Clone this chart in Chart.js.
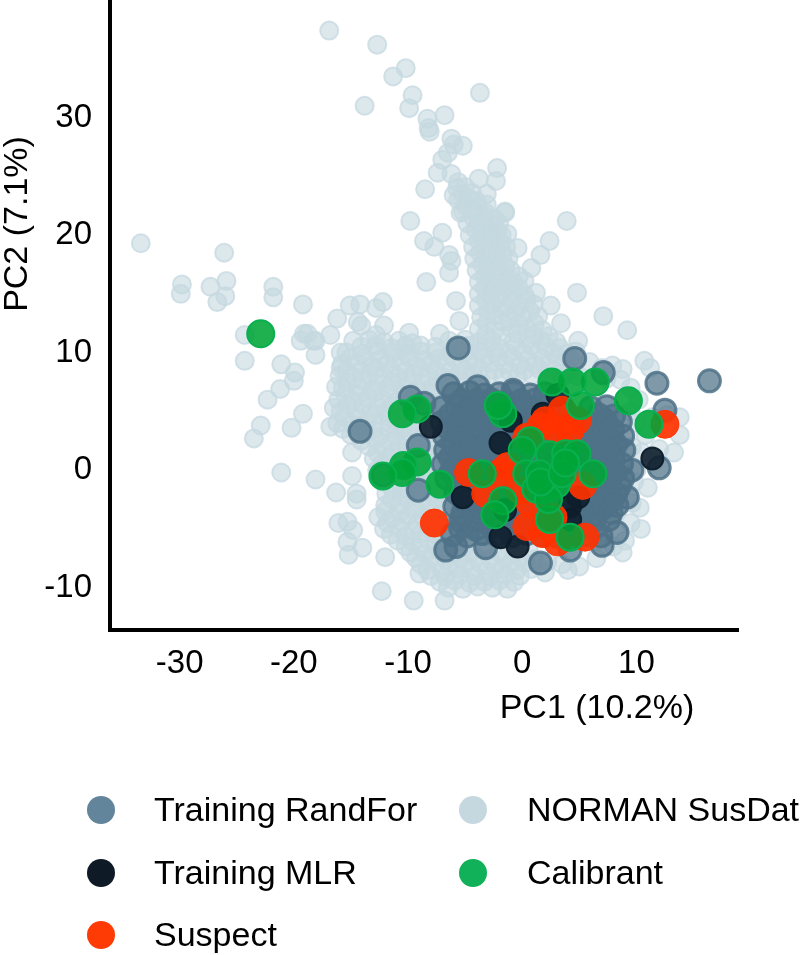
<!DOCTYPE html>
<html>
<head>
<meta charset="utf-8">
<title>PCA chemical space</title>
<script src="https://cdn.jsdelivr.net/npm/chart.js@4/dist/chart.umd.js"></script>
<style>
    html, body { margin: 0; padding: 0; background: #fff; overflow: hidden; }
    #wrap { width: 800px; height: 955px; position: relative; }
</style>
</head>
<body>
<div id="wrap"><canvas id="pcaChart" width="800" height="955"></canvas></div>
<script>
// Values (PC1, PC2)
const xTicks = [-30, -20, -10, 0, 10];
const yTicks = [-10, 0, 10, 20, 30];
const xTitle = 'PC1 (10.2%)';
const yTitle = 'PC2 (7.1%)';

const normanPoints = [
    // outliers and the arm going up
    [-16.9,37.4],[-12.7,36.2],[-10.2,34.2],[-11.3,33.5],[-9.6,31.9],[-3.7,32.1],[-9.9,30.8],[-13.8,31.0],
    [-8.3,29.9],[-6.8,30.2],[-8.2,29.1],[-8.1,28.8],[-6.2,28.2],[-5.2,27.6],[-6.0,27.7],[-6.5,27.0],
    [-7.0,26.4],[-7.4,25.3],[-6.2,25.2],[-2.2,25.7],[-3.8,24.8],[-2.3,24.6],[-3.1,23.5],[-8.5,23.9],
    [-5.6,24.5],[-6.0,23.4],[-1.5,21.9],[-9.8,21.2],[-5.4,21.9],[-7.0,20.2],[-8.6,19.5],[-7.7,19.0],
    [-1.3,20.1],[-6.4,18.3],[-6.2,17.8],[-6.4,16.8],[-8.4,16.0],[-5.8,14.4],[-5.5,12.7],[-7.2,11.6],
    [-33.4,19.3],[-26.1,18.5],[-29.8,15.8],[-29.9,15.0],[-27.3,15.6],[-25.9,16.1],[-26.0,14.8],[-26.7,14.3],
    [-21.8,15.6],[-21.8,14.7],[-19.2,14.1],[-24.3,11.5],[-18.8,11.6],[-16.2,12.9],[-15.1,14.0],[-14.2,14.1],
    [-12.2,14.3],[-12.8,13.8],[-14.4,12.6],[-12.1,12.3],[-9.9,11.7],[-0.4,18.9],[2.4,19.5],[1.6,18.3],
    [3.9,21.2],[4.8,15.1],[7.1,13.1],[9.2,11.9],[2.5,14.0],[3.4,12.5],[4.9,11.0],[0.8,17.2],[-1.5,22.0],
    // left edge of the main cloud
    [-24.3,9.3],[-21.1,9.0],[-19.9,8.3],[-20.0,7.6],[-21.2,6.9],[-22.3,6.0],[-22.9,3.8],[-23.5,2.7],
    [-19.2,4.8],[-20.2,3.6],[-21.1,-0.2],[-18.1,-0.8],[-16.3,-1.9],[-14.5,-2.5],[-14.5,-2.0],[-14.9,-0.5],
    [-16.1,-4.5],[-15.3,-4.4],[-14.8,-5.1],[-15.3,-6.1],[-14.0,-6.6],[-15.2,-7.2],[-12.0,-7.4],[-12.3,-10.3],
    [-9.5,-11.1],[-6.8,-11.1],[-9.0,-8.8],[-16.8,3.7],[-16.5,5.3],[-16.3,7.1],[-18.1,9.8],[-19.1,11.6],
    [-18.3,11.0],[-15.9,10.0],[-14.9,1.5],[-15.9,8.7],[-19.4,11.0],[-18.1,11.0],[-16.8,11.5],[-14.1,12.3],
    [-12.8,11.5],[-10.2,10.6],
    // main cloud
    [-14.8,11.0],[-13.4,11.1],[-12.1,10.9],[-10.8,11.0],[-9.6,10.8],[-6.4,11.0],[-5.0,11.1],[-3.8,10.9],[-2.7,11.0],[-0.8,10.9],[0.5,11.1],[1.7,11.0],[3.0,10.9],
    [-15.4,10.0],[-14.0,9.9],[-12.7,10.1],[-11.4,10.0],[-10.1,9.9],[-8.9,10.1],[-7.6,10.0],[-6.3,9.9],[-5.0,10.0],[-3.7,10.1],[-2.4,10.0],[-1.2,9.9],[0.1,10.0],[1.4,10.1],[2.7,10.0],[3.9,9.9],[4.7,10.1],
    [-15.8,9.0],[-14.5,9.1],[-13.2,8.9],[-11.9,9.0],[-10.6,9.1],[-9.3,8.9],[-8.0,9.0],[-6.7,9.1],[-5.4,8.9],[-4.1,9.0],[-2.8,9.1],[-1.5,9.0],[-0.2,8.9],[1.1,9.0],[2.4,9.1],[3.6,9.0],[4.4,8.9],
    [-16.0,8.0],[-14.7,7.9],[-13.4,8.1],[-12.1,8.0],[-10.8,7.9],[-9.5,8.1],[-8.2,8.0],[-6.9,7.9],[-5.6,8.0],[-4.3,8.1],[-3.0,8.0],[-1.7,7.9],[-0.4,8.0],[0.9,8.1],[2.2,8.0],[3.5,7.9],[4.8,8.0],
    [-15.7,7.0],[-14.4,7.1],[-13.1,6.9],[-11.8,7.0],[-10.5,7.1],[-9.2,6.9],[-7.9,7.0],[-6.6,7.1],
    [-16.1,6.0],[-14.8,5.9],[-13.5,6.1],[-12.2,6.0],[-10.9,5.9],[-9.6,6.1],[-8.3,6.0],[-7.0,5.9],
    [-15.9,5.0],[-14.6,5.1],[-13.3,4.9],[-12.0,5.0],[-10.7,5.1],[-9.4,4.9],[-8.1,5.0],
    [-16.2,4.0],[-14.9,3.9],[-13.6,4.1],[-12.3,4.0],[-11.0,3.9],[-9.7,4.1],[-8.4,4.0],
    [-15.0,3.0],[-13.7,3.1],[-12.4,2.9],[-11.1,3.0],[-9.8,3.1],[-8.5,2.9],
    [-13.4,2.0],[-12.1,1.9],[-10.8,2.1],[-9.5,2.0],[-8.2,1.9],
    [-13.0,1.0],[-11.7,1.1],[-10.4,0.9],[-9.1,1.0],[-7.8,1.1],
    [-12.7,0.0],[-11.4,-0.1],[-10.1,0.1],[-8.8,0.0],[-7.5,-0.1],
    [-12.2,-1.0],[-10.9,-0.9],[-9.6,-1.1],[-8.3,-1.0],[-7.0,-0.9],
    [-11.9,-2.0],[-10.6,-2.1],[-9.3,-1.9],[-8.0,-2.0],[-6.7,-2.1],
    [-12.0,-3.0],[-10.7,-2.9],[-9.4,-3.1],[-8.1,-3.0],[-6.8,-2.9],
    [-12.6,-4.0],[-11.3,-4.1],[-10.0,-3.9],[-8.7,-4.0],[-7.4,-4.1],[-6.1,-3.9],
    [-12.1,-5.0],[-10.8,-4.9],[-9.5,-5.1],[-8.2,-5.0],[-6.9,-4.9],
    [-10.9,-6.0],[-9.6,-6.1],[-8.3,-5.9],[-7.0,-6.0],
    [-9.8,-7.0],[-8.5,-7.1],[-7.2,-6.9],[-5.9,-7.0],[-4.6,-7.1],[-3.3,-6.9],[-2.0,-7.0],[-0.7,-7.1],[0.6,-6.9],
    [-8.9,-8.0],[-7.6,-7.9],[-6.3,-8.1],[-5.0,-8.0],[-3.7,-7.9],[-2.4,-8.1],[-1.1,-8.0],[0.2,-7.9],
    [-8.0,-9.0],[-6.7,-9.1],[-5.4,-8.9],[-4.1,-9.0],[-2.8,-9.1],[-1.5,-8.9],[-0.2,-9.0],
    [-6.5,-10.0],[-5.2,-10.1],[-3.9,-9.9],[-2.6,-10.0],[-1.3,-10.1],
    // main cloud, filling between the points above
    [-14.1,10.5],[-12.8,10.6],[-11.5,10.4],[-10.2,10.5],[-8.9,10.6],[-7.6,10.5],[-6.0,10.4],[-4.6,10.6],[-3.3,10.5],[-2.0,10.4],[-0.5,10.5],[0.8,10.6],[2.1,10.5],[3.3,10.4],
    [-15.1,9.5],[-13.8,9.6],[-12.5,9.4],[-11.2,9.5],[-9.9,9.6],[-8.6,9.4],[-7.3,9.5],[-6.0,9.6],[-4.7,9.4],[-3.4,9.5],[-2.1,9.6],[-0.8,9.5],[0.5,9.4],[1.8,9.5],[3.1,9.6],[4.2,9.5],
    [-15.4,8.5],[-14.1,8.4],[-12.8,8.6],[-11.5,8.5],[-10.2,8.4],[-8.9,8.6],[-7.6,8.5],[-6.3,8.4],[-5.0,8.5],[-3.7,8.6],[-2.4,8.5],[-1.1,8.4],[0.2,8.5],[1.5,8.6],[2.8,8.5],[4.1,8.4],
    [-15.3,7.5],[-14.0,7.6],[-12.7,7.4],[-11.4,7.5],[-10.1,7.6],[-8.8,7.4],[-7.5,7.5],[-6.2,7.6],[-4.9,7.5],[-3.6,7.4],
    [-15.5,6.5],[-14.2,6.4],[-12.9,6.6],[-11.6,6.5],[-10.3,6.4],[-9.0,6.6],[-7.7,6.5],
    [-15.3,5.5],[-14.0,5.6],[-12.7,5.4],[-11.4,5.5],[-10.1,5.6],[-8.8,5.4],[-7.5,5.5],
    [-15.6,4.5],[-14.3,4.4],[-13.0,4.6],[-11.7,4.5],[-10.4,4.4],[-9.1,4.6],[-7.8,4.5],
    [-15.7,3.5],[-14.3,3.6],[-13.0,3.4],[-11.7,3.5],[-10.4,3.6],[-9.1,3.4],[-7.8,3.5],
    [-14.1,2.5],[-12.8,2.6],[-11.5,2.4],[-10.2,2.5],[-8.9,2.6],[-7.6,2.4],
    [-12.7,1.5],[-11.4,1.4],[-10.1,1.6],[-8.8,1.5],[-7.5,1.4],
    [-12.3,0.5],[-11.0,0.6],[-9.7,0.4],[-8.4,0.5],[-7.1,0.6],
    [-12.0,-0.5],[-10.7,-0.4],[-9.4,-0.6],[-8.1,-0.5],[-6.8,-0.4],
    [-11.4,-1.5],[-10.1,-1.6],[-8.8,-1.4],[-7.5,-1.5],
    [-11.4,-2.5],[-10.1,-2.4],[-8.8,-2.6],[-7.5,-2.5],
    [-12.0,-3.5],[-10.7,-3.6],[-9.4,-3.4],[-8.1,-3.5],[-6.8,-3.6],
    [-11.8,-4.5],[-10.5,-4.4],[-9.2,-4.6],[-7.9,-4.5],[-6.6,-4.4],
    [-11.5,-5.5],[-10.2,-5.6],[-8.9,-5.4],[-7.6,-5.5],
    [-10.2,-6.5],[-8.9,-6.6],[-7.6,-6.4],[-6.3,-6.5],[-5.0,-6.6],
    [-9.3,-7.5],[-8.0,-7.4],[-6.7,-7.6],[-5.4,-7.5],[-4.1,-7.4],[-2.8,-7.6],[-1.5,-7.5],[-0.2,-7.4],[1.0,-7.6],
    [-8.3,-8.5],[-7.0,-8.6],[-5.7,-8.4],[-4.4,-8.5],[-3.1,-8.6],[-1.8,-8.4],[-0.5,-8.5],[0.8,-8.4],
    [-7.2,-9.5],[-5.9,-9.4],[-4.6,-9.6],[-3.3,-9.5],[-2.0,-9.4],[-0.7,-9.5],
    // right side, mostly behind the training points
    [5.9,9.2],[7.0,8.7],[7.9,8.9],[8.8,8.6],[7.4,7.8],[8.6,7.7],[10.7,9.3],[11.2,8.7],[9.5,5.0],[10.8,3.0],
    [11.4,4.5],[12.7,4.7],[13.8,4.5],[13.8,3.0],[13.3,1.5],[12.0,1.8],[10.5,1.5],[10.0,0.0],[11.0,-1.5],
    [10.3,-3.2],[9.5,-4.5],[10.4,-5.0],[9.0,-6.0],[8.0,-6.5],[6.5,-7.5],[5.0,-8.2],[4.0,-8.5],[2.0,-8.7],
    [10.2,6.0],[9.5,7.0],[10.0,4.0],[9.6,2.0],[9.8,-1.0],[9.6,-2.8],[8.8,-7.0],[3.5,-8.0],[2.2,-7.8],
    // dense wedge above the cloud
    [-5.7,24.0],[-5.0,24.1],[-5.6,23.0],[-4.7,23.1],[-4.0,22.9],[-5.2,22.0],[-4.3,22.1],[-3.2,21.9],
    [-4.8,21.0],[-3.8,21.1],[-2.8,20.9],[-2.0,21.0],[-4.6,20.0],[-3.6,20.1],[-2.6,19.9],[-1.8,20.0],
    [-4.3,19.0],[-3.3,19.1],[-2.3,18.9],[-1.4,19.0],[-4.2,18.0],[-3.2,18.1],[-2.2,17.9],[-1.2,18.0],
    [-4.0,17.0],[-3.0,17.1],[-2.0,16.9],[-1.0,17.0],[-3.8,16.0],[-2.8,16.1],[-1.8,15.9],[-0.8,16.0],[0.2,16.1],
    [-3.8,15.0],[-2.8,14.9],[-1.8,15.1],[-0.8,15.0],[0.2,14.9],[1.2,15.1],[-3.8,14.0],[-2.6,14.1],[-1.4,13.9],[-0.2,14.0],[1.0,14.1],
    [-3.6,13.0],[-2.4,13.1],[-1.2,12.9],[0.0,13.0],[1.4,13.1],[-3.8,12.0],[-2.4,11.9],[-1.0,12.1],[0.4,12.0],[1.8,11.9],
    [-5.2,23.5],[-4.4,23.6],[-4.9,22.5],[-3.9,22.4],[-3.1,22.6],[-4.3,21.5],[-3.3,21.6],[-2.4,21.4],
    [-4.1,20.5],[-3.1,20.6],[-2.2,20.4],[-3.8,19.5],[-2.8,19.6],[-1.9,19.4],[-3.7,18.5],[-2.7,18.6],[-1.7,18.4],
    [-3.5,17.5],[-2.5,17.6],[-1.5,17.4],[-3.3,16.5],[-2.3,16.6],[-1.3,16.4],[-0.3,16.5],[-3.3,15.5],[-2.3,15.6],[-1.3,15.4],[-0.3,15.5],
    [-3.2,14.5],[-2.1,14.6],[-0.9,14.4],[0.4,14.5],[-3.0,13.5],[-1.8,13.6],[-0.6,13.4],[0.7,13.5],[-3.1,12.5],[-1.7,12.6],[-0.3,12.4],[1.1,12.5],
    [-3.2,11.5],[-1.8,11.4],[-0.4,11.6],[1.0,11.5],[2.3,11.4]
];

const randForPoints = [
    [16.4,7.6],[11.8,7.4],[4.6,9.5],[-5.6,10.4],[-14.2,3.3],[7.1,8.3],[12.5,5.1],[12.0,0.2],[9.6,0.0],[9.2,-2.3],
    [8.3,-5.3],[7.0,-6.4],[1.6,-7.9],[4.2,-6.8],[-5.8,-6.5],[-3.2,-6.6],[-9.1,-1.7],[-9.1,2.1],[-9.8,6.2],[-8.6,5.7],
    [-6.5,7.2],[-3.9,7.1],[-0.8,6.8],[-12.2,-0.4],[-6.7,-6.8],
    [-6.0,6.5],[-4.6,6.6],[-3.3,6.4],[-2.0,6.5],[-0.7,6.6],[0.7,6.4],[2.0,6.5],
    [-7.0,5.3],[-5.7,5.4],[-4.4,5.2],[-3.1,5.3],[-1.8,5.4],[-0.5,5.2],[0.8,5.3],[2.1,5.4],[3.5,5.2],[6.0,5.3],[7.4,5.4],
    [-7.0,4.1],[-5.7,4.0],[-4.4,4.2],[-3.1,4.1],[-1.8,4.0],[-0.5,4.2],[0.8,4.1],[2.1,4.0],[3.4,4.2],[4.7,4.1],[6.0,4.0],[7.3,4.2],[8.6,4.1],
    [-6.8,2.9],[-5.5,3.0],[-4.2,2.8],[-2.9,2.9],[-1.6,3.0],[-0.3,2.8],[1.0,2.9],[2.3,3.0],[3.6,2.8],[4.9,2.9],[6.2,3.0],[7.5,2.8],[8.8,2.9],
    [-6.7,1.7],[-5.4,1.6],[-4.1,1.8],[-2.8,1.7],[-1.5,1.6],[-0.2,1.8],[1.1,1.7],[2.4,1.6],[3.7,1.8],[5.0,1.7],[6.3,1.6],[7.6,1.8],[8.9,1.7],
    [-6.9,0.5],[-5.6,0.6],[-4.3,0.4],[-3.0,0.5],[-1.7,0.6],[-0.4,0.4],[0.9,0.5],[2.2,0.6],[3.5,0.4],[4.8,0.5],[6.1,0.6],[7.4,0.4],[8.7,0.5],
    [-6.6,-0.7],[-5.3,-0.8],[-4.0,-0.6],[-2.7,-0.7],[-1.4,-0.8],[-0.1,-0.6],[1.2,-0.7],[2.5,-0.8],[3.8,-0.6],[5.1,-0.7],[6.4,-0.8],[7.7,-0.6],[8.8,-0.7],
    [-5.8,-1.9],[-4.5,-1.8],[-3.2,-2.0],[-1.9,-1.9],[-0.6,-1.8],[0.7,-2.0],[2.0,-1.9],[3.3,-1.8],[4.6,-2.0],[5.9,-1.9],[7.2,-1.8],[8.2,-2.0],
    [-5.9,-3.1],[-4.6,-3.2],[-3.3,-3.0],[-2.0,-3.1],[-0.7,-3.2],[0.6,-3.0],[1.9,-3.1],[3.2,-3.2],[4.5,-3.0],[5.8,-3.1],[7.1,-3.2],[8.3,-3.0],
    [-5.4,-4.3],[-4.1,-4.2],[-2.8,-4.4],[-1.5,-4.3],[-0.2,-4.2],[1.1,-4.4],[2.4,-4.3],[3.7,-4.2],[5.0,-4.4],[6.3,-4.3],[7.6,-4.2],
    [-6.1,-5.5],[-4.8,-5.6],[-3.5,-5.4],[-2.2,-5.5],[-0.9,-5.6],[0.4,-5.4],[1.7,-5.5],[3.0,-5.6],[4.3,-5.4],[5.6,-5.5],[6.9,-5.6],
    // filling between the rows above
    [-5.3,5.9],[-4.0,5.9],[-2.7,6.0],[-1.4,5.8],[-0.1,5.9],[1.2,6.0],
    [-6.3,4.7],[-5.0,4.8],[-3.7,4.6],[-2.4,4.7],[-1.1,4.8],[0.2,4.6],[1.5,4.7],[2.8,4.8],[6.7,4.7],[8.0,4.6],
    [-6.4,3.5],[-5.1,3.6],[-3.8,3.4],[-2.5,3.5],[-1.2,3.6],[0.1,3.4],[1.4,3.5],[2.7,3.6],[4.0,3.4],[5.3,3.5],[6.6,3.6],[7.9,3.4],
    [-6.1,2.3],[-4.8,2.4],[-3.5,2.2],[-2.2,2.3],[-0.9,2.4],[0.4,2.2],[1.7,2.3],[3.0,2.4],[4.3,2.2],[5.6,2.3],[6.9,2.4],[8.2,2.2],
    [-6.3,1.1],[-5.0,1.0],[-3.7,1.2],[-2.4,1.1],[-1.1,1.0],[0.2,1.2],[1.5,1.1],[2.8,1.0],[4.1,1.2],[5.4,1.1],[6.7,1.0],[8.0,1.2],
    [-6.2,-0.1],[-4.9,0.0],[-3.6,-0.2],[-2.3,-0.1],[-1.0,0.0],[0.3,-0.2],[1.6,-0.1],[2.9,0.0],[4.2,-0.2],[5.5,-0.1],[6.8,0.0],[8.1,-0.2],
    [-5.6,-1.3],[-4.3,-1.2],[-3.0,-1.4],[-1.7,-1.3],[-0.4,-1.2],[0.9,-1.4],[2.2,-1.3],[3.5,-1.2],[4.8,-1.4],[6.1,-1.3],[7.4,-1.2],[8.5,-1.4],
    [-5.2,-2.5],[-3.9,-2.6],[-2.6,-2.4],[-1.3,-2.5],[0.0,-2.6],[1.3,-2.4],[2.6,-2.5],[3.9,-2.6],[5.2,-2.4],[6.5,-2.5],[7.8,-2.6],
    [-5.2,-3.7],[-3.9,-3.6],[-2.6,-3.8],[-1.3,-3.7],[0.0,-3.6],[1.3,-3.8],[2.6,-3.7],[3.9,-3.6],[5.2,-3.8],[6.5,-3.7],[7.8,-3.6],
    [-5.4,-4.9],[-4.1,-5.0],[-2.8,-4.8],[-1.5,-4.9],[-0.2,-5.0],[1.1,-4.8],[2.4,-4.9],[3.7,-5.0],[5.0,-4.8],[6.3,-4.9]
];

const mlrPoints = [
    [-8.0,3.7],[11.4,1.0],[-5.2,-2.3],[-1.9,2.3],[-1.0,4.2],[-0.4,-6.5],[-1.9,-5.7],[1.8,4.8],[3.1,6.4],
    [4.9,-2.3],[4.2,-3.1],[4.2,-4.2],[-1.5,-3.4]
];

const suspectPoints = [
    [-7.7,-4.5],[-4.7,-0.2],[12.5,3.9],[-3.2,-2.0],[-1.9,-0.2],[0.4,-4.8],[5.3,-1.3],[5.5,-5.7],[3.1,-6.1],
    [1.8,-5.4],[3.5,5.1],[4.8,4.2],[1.6,3.7],[3.1,3.4],[0.4,2.8],[-0.2,-1.7],[0.7,-2.8],[2.7,-4.0],[-1.3,0.3],
    [2.3,-4.8],[4.2,3.4],[2.0,4.2]
];

const calibrantPoints = [
    [-22.9,11.6],[9.3,5.9],[11.1,3.9],[6.4,7.5],[4.4,7.5],[2.6,7.5],[5.1,5.5],[-1.7,4.8],[-2.1,5.5],[-9.2,5.2],
    [-10.5,4.8],[0.7,2.5],[0.0,1.7],[2.4,1.3],[3.8,1.4],[4.8,1.4],[6.2,-0.3],[0.4,-0.3],[2.2,-0.8],[1.8,-1.7],
    [-3.5,-0.3],[-7.2,-1.2],[-9.2,0.7],[-10.4,0.4],[-10.5,-0.2],[-12.2,-0.5],[-1.7,-2.6],[-2.4,-3.8],[2.4,-4.2],
    [4.2,-5.7],[2.3,-1.4],[1.5,-0.3],[3.0,-1.2],[1.2,-1.6],[2.3,-2.5],[1.6,-1.0],[3.5,-0.3],[3.8,0.6]
];

// Legend layout, column by column
const legendColumns = [
    { textX: 154, markerX: 101, labels: ['Training RandFor', 'Training MLR', 'Suspect'] },
    { textX: 527, markerX: 473, labels: ['NORMAN SusDat', 'Calibrant'] }
];
const legendRows = [810, 873, 935];

const FONT = '"Liberation Sans", Arial, sans-serif';

function toXY(points) {
    return points.map(p => ({ x: p[0], y: p[1] }));
}

// Axis titles sit off-centre and the legend has two columns, neither is a built-in option
const pageText = {
    id: 'pageText',
    afterDraw(chart) {
        const ctx = chart.ctx;
        ctx.save();
        ctx.fillStyle = '#000';
        ctx.font = '34px ' + FONT;
        ctx.textBaseline = 'middle';
        ctx.textAlign = 'center';
        ctx.fillText(xTitle, 597, 709);

        ctx.save();
        ctx.translate(18, 224);
        ctx.rotate(-Math.PI / 2);
        ctx.fillText(yTitle, 0, 0);
        ctx.restore();

        ctx.textAlign = 'left';
        legendColumns.forEach(col => {
            col.labels.forEach((label, i) => {
                const ds = chart.data.datasets.find(d => d.label === label);
                ctx.beginPath();
                ctx.arc(col.markerX, legendRows[i], 14, 0, Math.PI * 2);
                ctx.fillStyle = ds.legendColor;
                ctx.fill();
                ctx.fillStyle = '#000';
                ctx.fillText(label, col.textX, legendRows[i] + 2);
            });
        });
        ctx.restore();
    }
};

new Chart(document.getElementById('pcaChart'), {
    type: 'scatter',
    data: {
        datasets: [
            {
                label: 'Calibrant', data: toXY(calibrantPoints), order: 1, legendColor: '#10b158',
                pointRadius: 13.5, borderWidth: 2,
                backgroundColor: 'rgba(0,165,56,0.88)', borderColor: 'rgba(10,176,80,1)'
            },
            {
                label: 'Suspect', data: toXY(suspectPoints), order: 2, legendColor: '#ff3b05',
                pointRadius: 14, borderWidth: 1,
                backgroundColor: 'rgba(255,50,0,0.92)', borderColor: 'rgba(255,50,0,0.92)'
            },
            {
                label: 'Training MLR', data: toXY(mlrPoints), order: 3, legendColor: '#0e1a26',
                pointRadius: 11, borderWidth: 2,
                backgroundColor: 'rgba(14,30,44,0.9)', borderColor: 'rgba(14,30,44,0.95)'
            },
            {
                label: 'Training RandFor', data: toXY(randForPoints), order: 4, legendColor: '#62859b',
                pointRadius: 11, borderWidth: 3,
                backgroundColor: 'rgba(79,114,136,0.72)', borderColor: 'rgba(79,114,136,0.85)'
            },
            {
                label: 'NORMAN SusDat', data: toXY(normanPoints), order: 5, legendColor: '#c5d8e0',
                pointRadius: 9, borderWidth: 2,
                backgroundColor: 'rgba(197,216,224,0.6)', borderColor: 'rgba(197,216,224,0.75)'
            }
        ]
    },
    options: {
        responsive: false,
        animation: false,
        layout: { autoPadding: false, padding: { left: 0, top: 0, right: 62, bottom: 0 } },
        plugins: { legend: { display: false }, tooltip: { enabled: false } },
        scales: {
            x: {
                type: 'linear',
                min: -36.1,
                max: 18.9,
                afterFit(scale) {
                    scale.height = 325;
                    scale.paddingLeft = 0;
                    scale.paddingRight = 0;
                },
                afterBuildTicks(scale) { scale.ticks = xTicks.map(v => ({ value: v })); },
                grid: { display: false, drawTicks: false },
                border: { color: '#000', width: 4 },
                ticks: { color: '#000', font: { family: FONT, size: 33 }, padding: 14, maxRotation: 0 }
            },
            y: {
                type: 'linear',
                min: -13.6,
                max: 40,
                afterFit(scale) {
                    scale.width = 110;
                    scale.paddingTop = 0;
                    scale.paddingBottom = 0;
                },
                afterBuildTicks(scale) { scale.ticks = yTicks.map(v => ({ value: v })); },
                grid: { display: false, drawTicks: false },
                border: { color: '#000', width: 4 },
                ticks: { color: '#000', font: { family: FONT, size: 33 }, padding: 18 }
            }
        }
    },
    plugins: [pageText]
});
</script>
</body>
</html>
